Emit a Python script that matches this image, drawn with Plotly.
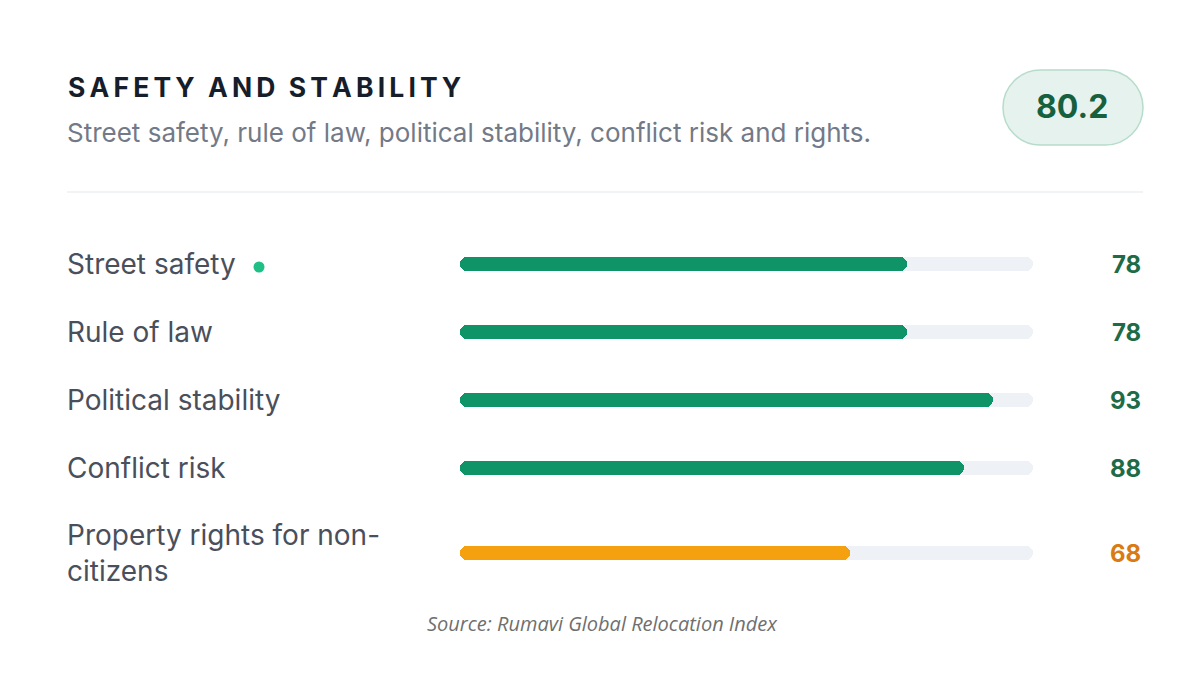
import plotly.graph_objects as go

# ---- data ----
categories = ["Street safety", "Rule of law", "Political stability", "Conflict risk",
              "Property rights for non-<br>citizens"]
scores = [78, 78, 93, 88, 68]
overall_score = 80.2
title = "SAFETY AND STABILITY"
subtitle = "Street safety, rule of law, political stability, conflict risk and rights."
source = "Source: Rumavi Global Relocation Index"
max_score = 100

# ---- styling / layout ----
W, H = 1200, 675
GREEN = "#0f9468"
ORANGE = "#f5a00f"
TRACK = "#eef1f5"
VAL_GREEN = "#1e6b48"
VAL_ORANGE = "#d97a12"
LABEL = "#4a4f5c"
row_pos = [0, 1, 2, 3, 4.25]          # layout rows (last row taller for 2-line label)
px_per_unit = 68.0
y_top_px = 264.0                       # pixel of first row
r0 = -y_top_px / px_per_unit
r1 = r0 + H / px_per_unit
bar_w = 13.5 / px_per_unit
overlap = 4                            # halves overlap in the middle to hide the seam

bar_colors = [GREEN if s >= 75 else ORANGE for s in scores]
val_colors = [VAL_GREEN if s >= 75 else VAL_ORANGE for s in scores]

fig = go.Figure()


def add_rounded_bar(values, colors, name):
    # each bar drawn as two overlapping halves so both ends get rounded
    halves = [v / 2 for v in values]
    # left half: drawn leftwards from just past the midpoint -> rounded left end
    fig.add_trace(go.Bar(
        x=[-(h + overlap) for h in halves], base=[h + overlap for h in halves],
        y=row_pos, orientation="h",
        marker=dict(color=colors, line=dict(width=0)), width=bar_w,
        name=name, hoverinfo="skip", showlegend=False))
    # right half: drawn rightwards from just before the midpoint -> rounded right end
    fig.add_trace(go.Bar(
        x=[h + overlap for h in halves], base=[h - overlap for h in halves],
        y=row_pos, orientation="h",
        marker=dict(color=colors, line=dict(width=0)), width=bar_w,
        name=name, hoverinfo="skip", showlegend=False))


add_rounded_bar([max_score] * len(scores), TRACK, "track")
add_rounded_bar(scores, bar_colors, "score")

annotations = []
for cat, s, yp, vc in zip(categories, scores, row_pos, val_colors):
    annotations.append(dict(
        x=65 / W, xref="paper", y=yp, yref="y", text=cat, showarrow=False,
        xanchor="left", yanchor="middle", align="left",
        font=dict(family="Inter", size=28, color=LABEL)))
    annotations.append(dict(
        x=1143 / W, xref="paper", y=yp, yref="y", text=f"<b>{s}</b>", showarrow=False,
        xanchor="right", yanchor="middle",
        font=dict(family="Inter", size=24, color=vc)))

spaced_title = "\u2009".join(list(title)).replace("\u2009 \u2009", "\u2002")
annotations += [
    dict(x=66 / W, xref="paper", y=1 - 87 / H, yref="paper", text=f"<b>{spaced_title}</b>",
         showarrow=False, xanchor="left", yanchor="middle",
         font=dict(family="Inter", size=26.5, color="#161d2b")),
    dict(x=65 / W, xref="paper", y=1 - 133 / H, yref="paper", text=subtitle,
         showarrow=False, xanchor="left", yanchor="middle",
         font=dict(family="Inter", size=26, color="#737a87")),
    dict(x=1072 / W, xref="paper", y=1 - 107 / H, yref="paper", text=f"<b>{overall_score}</b>",
         showarrow=False, xanchor="center", yanchor="middle",
         font=dict(family="Inter", size=32, color="#17603f")),
    dict(x=602 / W, xref="paper", y=1 - 623 / H, yref="paper", text=f"<i>{source}</i>",
         showarrow=False, xanchor="center", yanchor="middle",
         font=dict(family="Open Sans", size=20, color="#6f6f6f")),
]

# pill badge path (pixel-sized around center)
pw, ph = 140.0, 75.0
r = ph / 2
hx = pw / 2 - r
k = 0.5523 * r
pill = (f"M{-hx},{-r} L{hx},{-r} "
        f"C{hx + k},{-r} {hx + r},{-k} {hx + r},0 "
        f"C{hx + r},{k} {hx + k},{r} {hx},{r} "
        f"L{-hx},{r} "
        f"C{-hx - k},{r} {-hx - r},{k} {-hx - r},0 "
        f"C{-hx - r},{-k} {-hx - k},{-r} {-hx},{-r} Z")

dot_y = row_pos[0] + 3 / px_per_unit
dot_r = 5.5
shapes = [
    dict(type="path", path=pill, xref="paper", yref="paper",
         xsizemode="pixel", ysizemode="pixel", xanchor=1073 / W, yanchor=1 - 107.5 / H,
         fillcolor="#e6f2ee", line=dict(color="#b7dccb", width=1.5), layer="below"),
    dict(type="line", xref="paper", yref="paper", x0=67 / W, x1=1143 / W,
         y0=1 - 192 / H, y1=1 - 192 / H, line=dict(color="#e6e8ec", width=1.2)),
    dict(type="circle", xref="paper", yref="y",
         x0=(259 - dot_r) / W, x1=(259 + dot_r) / W,
         y0=dot_y - dot_r / px_per_unit, y1=dot_y + dot_r / px_per_unit,
         fillcolor="#1fbf85", line=dict(width=0)),
]

fig.update_layout(
    width=W, height=H, margin=dict(l=0, r=0, t=0, b=0),
    paper_bgcolor="white", plot_bgcolor="white",
    barmode="overlay", barcornerradius="50%", bargap=0,
    xaxis=dict(range=[0, max_score], domain=[460 / W, 1033 / W], visible=False, fixedrange=True),
    yaxis=dict(range=[r1, r0], domain=[0, 1], visible=False, fixedrange=True),
    annotations=annotations, shapes=shapes, showlegend=False,
)

fig.write_html("out.html")
